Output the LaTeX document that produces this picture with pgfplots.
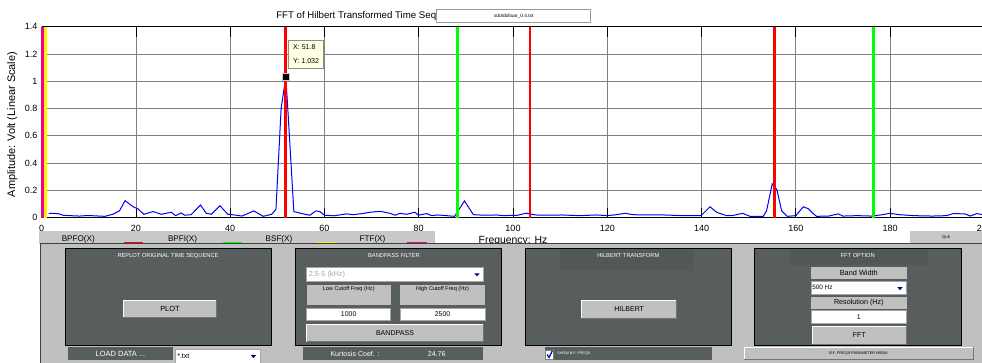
\documentclass[border=0pt]{standalone}
\usepackage{pgfplots}
\pgfplotsset{compat=1.18}
\usepackage{pgfplotstable}
\usepackage{fontspec}
\setmainfont{Liberation Sans}
\definecolor{guigray}{RGB}{192,192,192}
\definecolor{panelgray}{RGB}{88,94,94}
\definecolor{panelstrip}{RGB}{82,88,88}
\definecolor{stripgray}{RGB}{200,200,200}
\definecolor{tipbg}{RGB}{255,255,225}
\definecolor{navy}{RGB}{0,0,128}
\definecolor{gridgray}{RGB}{128,128,128}
\newcommand{\fs}[1]{\fontsize{#1}{#1}\selectfont}
\newcommand{\btn}[6]{%
  \fill[guigray] (#1,#2) rectangle (#3,#4);
  \draw[white, line width=0.6pt] (#1,#4) -- (#1,#2) -- (#3,#2);
  \draw[black!55, line width=0.6pt] (#1,#4) -- (#3,#4) -- (#3,#2);
  \node[font=\fs{#6}, inner sep=0pt] at ({(#1+#3)/2},{(#2+#4)/2}) {#5};}
\newcommand{\wbox}[4]{\filldraw[fill=white, draw=black!35, line width=0.5pt] (#1,#2) rectangle (#3,#4);}
\newcommand{\panel}[4]{\filldraw[fill=panelgray, draw=black, line width=0.5pt] (#1,#2) rectangle (#3,#4);}
\newcommand{\arrowdn}[2]{\fill[navy] ({#1-2.6},{#2-1.3}) -- ({#1+2.6},{#2-1.3}) -- (#1,{#2+1.6}) -- cycle;}

\pgfplotstableread{
f v
1.5 0.030
2 0.032
3.5 0.030
4.5 0.018
6 0.015
8 0.012
9.8 0.016
11 0.014
13.4 0.010
15.1 0.025
16.5 0.050
17.7 0.125
19.4 0.080
20.4 0.065
21.7 0.025
23.6 0.045
25.4 0.025
27.5 0.040
28.4 0.015
29.6 0.035
30.3 0.018
31.7 0.022
33.7 0.093
34.9 0.033
36.0 0.025
37.8 0.088
39.5 0.025
40.9 0.020
42.5 0.012
45.0 0.050
47.0 0.010
48.8 0.025
49.7 0.060
50.8 0.800
51.8 1.032
52.3 0.750
53.5 0.045
55.2 0.030
56.9 0.018
58.2 0.050
59.0 0.045
60.0 0.018
62.0 0.014
64.7 0.028
66.0 0.022
68.0 0.030
69.7 0.040
71.8 0.047
73.9 0.032
75.0 0.018
76.0 0.032
77.4 0.025
79.2 0.040
79.9 0.018
81.7 0.030
82.7 0.015
84.0 0.020
85.9 0.015
87.6 0.010
89.7 0.123
91.6 0.022
94.0 0.018
96.5 0.020
97.9 0.015
101.0 0.018
102.8 0.033
103.9 0.025
105.4 0.018
108.2 0.018
110.3 0.020
114.0 0.015
117.8 0.020
119.9 0.015
121.5 0.020
123.8 0.032
125.5 0.022
128 0.020
132 0.020
136 0.015
139.9 0.015
141.8 0.080
143.2 0.040
145.3 0.015
146.5 0.015
148.7 0.032
150.3 0.010
153.1 0.010
153.8 0.050
155.0 0.248
156.0 0.204
157.0 0.050
158.2 0.010
160.0 0.015
161.6 0.080
162.7 0.065
163.7 0.030
164.4 0.010
167 0.012
169 0.028
170 0.012
173 0.015
176 0.012
178 0.020
180 0.032
182 0.022
185 0.015
189 0.012
192 0.015
193.4 0.030
195.9 0.028
197 0.012
198.4 0.030
200 0.020
}\spectrum

\begin{document}
\begin{tikzpicture}[x=0.75pt,y=0.75pt]
\useasboundingbox (0,0) rectangle (982,363);
\begin{axis}[
  at={(31.275pt,108.975pt)}, anchor=south west,
  scale only axis, width=706.95pt, height=143.25pt,
  xmin=0, xmax=200, ymin=0, ymax=1.4,
  clip=false,
  xtick={0,20,40,60,80,100,120,140,160,180,200},
  xticklabels={0,20,40,60,80,100,120,140,160,180,200},
  ytick={0,0.2,0.4,0.6,0.8,1,1.2,1.4},
  yticklabels={0,0.2,0.4,0.6,0.8,1,1.2,1.4},
  tick label style={font=\fs{6.75}},
  xticklabel style={anchor=north, inner sep=0pt, yshift=-5.2pt},
  yticklabel style={anchor=east, inner sep=0pt, xshift=-3pt},
  xtick style={black, line width=0.6pt, /pgfplots/major tick length=7.5pt},
  ytick style={black, line width=0.5pt, /pgfplots/major tick length=2pt},
  grid=major,
  major grid style={gridgray, line width=0.6pt},
  separate axis lines,
  every outer x axis line/.append style={line width=1.1pt, black},
  every outer y axis line/.append style={draw=none},
  xlabel={Frequency: Hz},
  xlabel style={at={(axis description cs:0.5,-0.098)}, anchor=north, inner sep=0pt, font=\fs{7.8}},
  ylabel={Amplitude: Volt (Linear Scale)},
  ylabel style={at={(axis description cs:-0.0312,0.488)}, anchor=center, inner sep=0pt, font=\fs{8.2}},
]
\addplot[blue, line width=0.75pt] table[x=f, y=v] {\spectrum};
\addplot[yellow, line width=2.4pt] coordinates {(0.86,0) (0.86,1.4)};
\addplot[magenta, line width=2.4pt] coordinates {(0.17,0) (0.17,1.4)};
\addplot[red, line width=2.2pt] coordinates {(51.8,0) (51.8,1.4)};
\addplot[red, line width=2.2pt] coordinates {(103.6,0) (103.6,1.4)};
\addplot[red, line width=2.2pt] coordinates {(155.4,0) (155.4,1.4)};
\addplot[green, line width=2.2pt] coordinates {(88.2,0) (88.2,1.4)};
\addplot[green, line width=2.2pt] coordinates {(176.4,0) (176.4,1.4)};
\addplot[only marks, mark=square*, mark size=2.8pt, mark options={fill=black, draw=black!20, line width=0.3pt}] coordinates {(51.8,1.032)};
\node[draw=black!45, fill=tipbg, anchor=north west, inner xsep=3.5pt, inner ysep=3pt, align=left, font=\fontsize{5.3}{10.9}\selectfont] at (axis cs:52.3,1.302) {X: 51.8\\Y: 1.032};
\end{axis}

\begin{scope}[shift={(0,363)}, yscale=-1]
% title and file box
\node[anchor=base west, inner sep=0pt, font=\fs{7.25}] at (276,18.3) {FFT of Hilbert Transformed Time Sequence};
\filldraw[fill=white, draw=black!40, line width=0.5pt] (436.7,9) rectangle (590.7,22.7);
\node[font=\fs{3.6}, inner sep=0pt] at (513.7,16) {xdotdotluar\_0.4.txt};
% legend strip
\fill[stripgray] (39,231) rectangle (435,244);
\node[font=\fs{6.1}, inner sep=0pt] at (78.3,239.8) {BPFO(X)};
\draw[red, line width=0.9pt] (124,242.4) -- (143,242.4);
\node[font=\fs{6.1}, inner sep=0pt] at (182.5,239.8) {BPFI(X)};
\draw[green, line width=0.9pt] (223,242.4) -- (242,242.4);
\node[font=\fs{6.1}, inner sep=0pt] at (279,239.8) {BSF(X)};
\draw[yellow, line width=0.9pt] (317,242.4) -- (336,242.4);
\node[font=\fs{6.1}, inner sep=0pt] at (372.5,239.8) {FTF(X)};
\draw[magenta, line width=0.9pt] (407,242.4) -- (427,242.4);
% quit
\fill[stripgray] (910,231) rectangle (982,244);
\node[font=\fs{3.2}, inner sep=0pt] at (946,237) {Quit};
% control area
\fill[guigray] (40,243.5) rectangle (982,363);
\draw[black!75, line width=0.6pt] (40,363) -- (40,243.5) -- (982,243.5);
% panels
\panel{65}{248.3}{271.7}{345.7}
\panel{295}{248.3}{501.5}{345.7}
\panel{525}{248.3}{731.7}{345.7}
\panel{754}{248.3}{961}{345.7}
\fill[panelstrip] (560,249.5) rectangle (693,271.5);
\fill[panelstrip] (790,249.5) rectangle (928,265);
\node[white, font=\fs{4.3}, inner sep=0pt] at (168,256) {REPLOT ORIGINAL TIME SEQUENCE};
\node[white, font=\fs{4.3}, inner sep=0pt] at (394,256) {BANDPASS FILTER};
\node[white, font=\fs{4.3}, inner sep=0pt] at (628.3,256) {HILBERT TRANSFORM};
\node[white, font=\fs{4.3}, inner sep=0pt] at (857.7,256) {FFT OPTION};
% panel 1
\btn{123.3}{300}{216.7}{317.3}{PLOT}{5.6}
% panel 2
\wbox{306.7}{267.7}{483.3}{281.7}
\node[anchor=west, text=black!35, font=\fs{5.5}, inner sep=0pt] at (308.5,274.7) {2.5-5 (kHz)};
\arrowdn{477}{274.7}
\fill[guigray] (306.7,285) rectangle (390.7,305);
\fill[guigray] (400,285) rectangle (485,305);
\node[font=\fs{4.2}, inner sep=0pt] at (348.7,289.5) {Low Cutoff Freq (Hz)};
\node[font=\fs{4.2}, inner sep=0pt] at (442.5,289.5) {High Cutoff Freq (Hz)};
\wbox{306.7}{308.3}{390.7}{320.7}
\wbox{400}{308.3}{485}{320.7}
\node[font=\fs{5.2}, inner sep=0pt] at (348.7,314.5) {1000};
\node[font=\fs{5.2}, inner sep=0pt] at (442.5,314.5) {2500};
\btn{306.7}{324}{483.3}{341.7}{BANDPASS}{5.3}
% panel 3
\btn{581.7}{300}{676.7}{318.3}{HILBERT}{5.3}
% panel 4
\fill[guigray] (811,266.7) rectangle (906.7,279.3);
\node[font=\fs{5.5}, inner sep=0pt] at (858.8,273) {Band Width};
\wbox{811}{281.7}{906.7}{294}
\node[anchor=west, font=\fs{4.8}, inner sep=0pt] at (812,287.8) {500 Hz};
\arrowdn{900}{288.5}
\fill[guigray] (811,296.7) rectangle (906.7,309);
\node[font=\fs{5.4}, inner sep=0pt] at (858.8,302.8) {Resolution (Hz)};
\wbox{811}{310.7}{906.7}{323.3}
\node[font=\fs{5.2}, inner sep=0pt] at (858.8,317) {1};
\btn{812}{326}{906.7}{344}{FFT}{5.3}
% bottom row
\fill[panelgray] (68.3,347.3) rectangle (172.7,360);
\node[white, font=\fs{5.6}, inner sep=0pt] at (120.5,353.6) {LOAD DATA ...};
\wbox{175}{349}{260}{364}
\node[anchor=west, font=\fs{5.3}, inner sep=0pt] at (177,356) {*.txt};
\arrowdn{253.5}{356.5}
\fill[panelgray] (302.7,347.3) rectangle (482.7,360);
\node[white, font=\fs{5.3}, inner sep=0pt] at (355,353.6) {Kurtosis Coef. :};
\node[white, font=\fs{5.3}, inner sep=0pt] at (436.7,353.6) {24.76};
\fill[panelgray] (545,347.3) rectangle (711.7,360);
\filldraw[fill=white, draw=black!50, line width=0.4pt] (545.5,349.8) rectangle (553.3,359.3);
\draw[blue!80!black, line width=0.9pt] (547,354.5) -- (549,357.5) -- (552.3,350.8);
\node[anchor=west, white, font=\fs{2.8}, inner sep=0pt] at (557,353.6) {SHOW B.F. FREQS};
\btn{744}{347.3}{973}{359.3}{B.F. FREQS PARAMETER MENU}{2.9}
\end{scope}
\end{tikzpicture}
\end{document}
